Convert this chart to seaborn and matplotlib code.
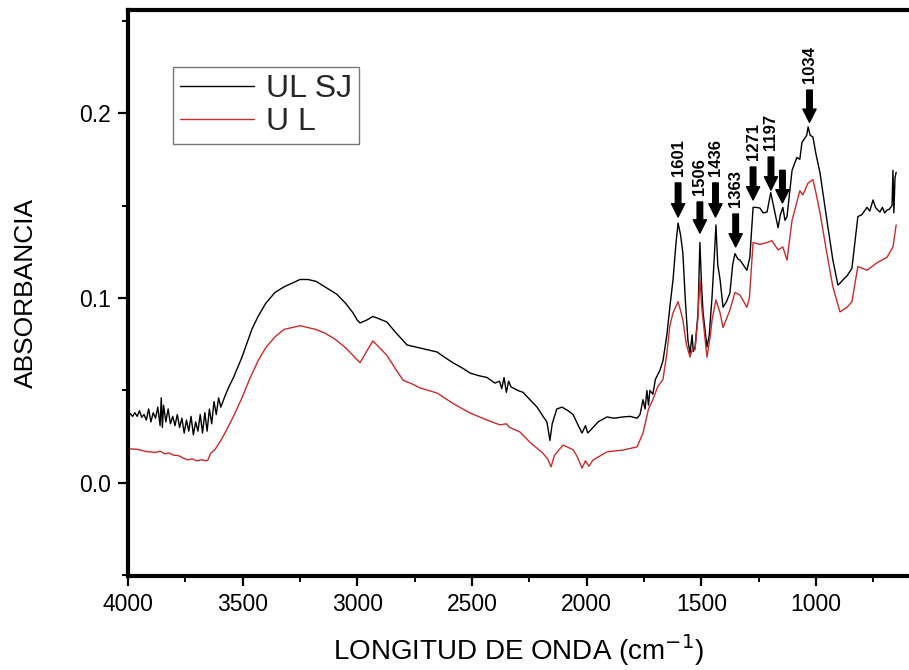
import numpy as np
import pandas as pd
import matplotlib
matplotlib.use("Agg")
import matplotlib.pyplot as plt
from matplotlib.ticker import MultipleLocator
from matplotlib import font_manager
import seaborn as sns

# ---- data ----
wn_black = [4000, 3990, 3980, 3970, 3960, 3950, 3940, 3930, 3920, 3910, 3900, 3890, 3880, 3870,
            3860, 3855, 3850, 3845, 3835, 3825, 3815, 3805, 3795, 3785, 3775, 3765, 3755, 3745,
            3735, 3725, 3715, 3705, 3695, 3685, 3675, 3665, 3655, 3645, 3635, 3625, 3615, 3605,
            3595, 3577, 3560, 3540, 3520, 3503, 3480, 3460, 3433, 3400, 3359, 3320, 3285, 3250,
            3215, 3180, 3141, 3089, 3050, 3019, 3000, 2988, 2960, 2932, 2910, 2871, 2830, 2783,
            2727, 2690, 2652, 2620, 2583, 2540, 2508, 2470, 2434, 2400, 2380, 2370, 2360, 2350,
            2340, 2330, 2300, 2277, 2247, 2216, 2190, 2173, 2160, 2150, 2130, 2107, 2080, 2059,
            2040, 2020, 2005, 1995, 1972, 1950, 1911, 1880, 1841, 1810, 1780, 1767, 1754, 1745,
            1737, 1730, 1724, 1711, 1700, 1680, 1667, 1650, 1637, 1623, 1610, 1601, 1590, 1580,
            1570, 1558, 1549, 1540, 1535, 1527, 1514, 1506, 1498, 1492, 1475, 1465, 1453, 1444,
            1436, 1428, 1418, 1405, 1390, 1375, 1363, 1353, 1340, 1331, 1301, 1288, 1274, 1260,
            1244, 1230, 1213, 1197, 1180, 1165, 1155, 1144, 1135, 1126, 1104, 1083, 1070, 1061,
            1048, 1040, 1034, 1025, 1013, 1000, 982, 952, 926, 904, 895, 873, 864, 843, 830, 817,
            800, 777, 765, 751, 740, 734, 721, 710, 700, 690, 680, 668, 664, 660, 655, 650]
abs_black = [0.037, 0.0375, 0.036, 0.038, 0.036, 0.039, 0.0355, 0.037, 0.034, 0.040, 0.033, 0.038,
             0.035, 0.041, 0.031, 0.046, 0.030, 0.042, 0.033, 0.040, 0.032, 0.036, 0.031, 0.037,
             0.030, 0.035, 0.027, 0.034, 0.028, 0.036, 0.026, 0.033, 0.028, 0.037, 0.027, 0.038,
             0.028, 0.040, 0.032, 0.044, 0.037, 0.046, 0.041, 0.047, 0.052, 0.057, 0.063, 0.068,
             0.076, 0.083, 0.090, 0.097, 0.103, 0.106, 0.108, 0.110, 0.110, 0.109, 0.106, 0.102,
             0.097, 0.092, 0.088, 0.0865, 0.088, 0.090, 0.089, 0.087, 0.081, 0.0746, 0.073, 0.072,
             0.0708, 0.068, 0.065, 0.062, 0.0594, 0.058, 0.057, 0.054, 0.055, 0.051, 0.057, 0.049,
             0.055, 0.052, 0.050, 0.049, 0.045, 0.041, 0.036, 0.033, 0.023, 0.032, 0.040, 0.041,
             0.039, 0.037, 0.032, 0.027, 0.031, 0.027, 0.030, 0.033, 0.0357, 0.035, 0.0357, 0.036,
             0.035, 0.037, 0.045, 0.040, 0.050, 0.042, 0.050, 0.048, 0.056, 0.061, 0.066, 0.080,
             0.095, 0.110, 0.130, 0.1405, 0.134, 0.124, 0.100, 0.077, 0.070, 0.080, 0.071, 0.0735,
             0.092, 0.130, 0.105, 0.092, 0.0735, 0.080, 0.1005, 0.120, 0.1395, 0.118, 0.110, 0.095,
             0.098, 0.1027, 0.118, 0.124, 0.121, 0.1205, 0.115, 0.122, 0.149, 0.149, 0.1486, 0.146,
             0.1465, 0.157, 0.147, 0.138, 0.145, 0.149, 0.142, 0.144, 0.169, 0.176, 0.175, 0.184,
             0.1865, 0.188, 0.1925, 0.188, 0.187, 0.178, 0.1676, 0.142, 0.1205, 0.107, 0.108,
             0.111, 0.112, 0.116, 0.130, 0.144, 0.145, 0.149, 0.147, 0.153, 0.149, 0.148, 0.1465,
             0.149, 0.146, 0.1475, 0.148, 0.150, 0.169, 0.146, 0.165, 0.168]

wn_red = [4000, 3960, 3920, 3880, 3860, 3840, 3820, 3800, 3780, 3760, 3740, 3720, 3700, 3680,
          3660, 3651, 3640, 3621, 3600, 3577, 3540, 3503, 3470, 3433, 3400, 3359, 3320, 3285,
          3250, 3215, 3180, 3141, 3100, 3050, 3019, 2988, 2960, 2932, 2910, 2871, 2830, 2800,
          2760, 2727, 2652, 2583, 2508, 2434, 2378, 2350, 2335, 2291, 2247, 2190, 2170, 2155,
          2140, 2103, 2059, 2040, 2020, 2005, 1990, 1972, 1911, 1841, 1780, 1754, 1730, 1711,
          1690, 1667, 1650, 1637, 1623, 1601, 1590, 1580, 1565, 1549, 1540, 1527, 1514, 1506,
          1498, 1492, 1475, 1460, 1453, 1436, 1418, 1405, 1375, 1353, 1331, 1301, 1290, 1274,
          1244, 1213, 1192, 1165, 1144, 1126, 1104, 1070, 1057, 1035, 1013, 1000, 982, 952,
          926, 895, 864, 843, 817, 777, 734, 690, 664, 650]
abs_red = [0.0185, 0.0182, 0.017, 0.0165, 0.0172, 0.0158, 0.0162, 0.015, 0.0148, 0.0135, 0.0125,
           0.013, 0.012, 0.0125, 0.012, 0.0125, 0.016, 0.018, 0.022, 0.027, 0.036, 0.046, 0.056,
           0.066, 0.073, 0.079, 0.083, 0.084, 0.085, 0.084, 0.083, 0.081, 0.078, 0.073, 0.069,
           0.065, 0.071, 0.0768, 0.074, 0.069, 0.061, 0.0555, 0.0535, 0.0514, 0.0486, 0.043,
           0.0378, 0.034, 0.0314, 0.032, 0.030, 0.0276, 0.022, 0.016, 0.013, 0.0087, 0.015,
           0.0205, 0.018, 0.014, 0.008, 0.012, 0.009, 0.0124, 0.0168, 0.0178, 0.0195, 0.027,
           0.040, 0.045, 0.052, 0.056, 0.070, 0.085, 0.092, 0.098, 0.093, 0.088, 0.075, 0.068,
           0.072, 0.072, 0.090, 0.111, 0.095, 0.088, 0.068, 0.080, 0.088, 0.099, 0.092, 0.084,
           0.0935, 0.103, 0.1016, 0.095, 0.100, 0.130, 0.129, 0.130, 0.131, 0.126, 0.1276,
           0.1205, 0.142, 0.158, 0.1557, 0.162, 0.164, 0.157, 0.146, 0.124, 0.106, 0.0925,
           0.095, 0.098, 0.117, 0.115, 0.119, 0.122, 0.1276, 0.1395]

series_names = ["UL SJ", "U L"]
peak_labels = ["1601", "1506", "1436", "1363", "1271", "1197", "", "1034"]
arrow_x = [1601, 1506, 1438, 1350, 1274, 1196, 1146, 1028]
arrow_tip = [0.1438, 0.1351, 0.1438, 0.1276, 0.153, 0.1584, 0.1514, 0.195]
arrow_top = [0.1622, 0.1519, 0.1622, 0.1454, 0.1708, 0.1762, 0.169, 0.2124]
label_y = [0.1660, 0.1557, 0.1660, 0.1492, 0.1746, 0.1800, 0.0, 0.2162]

# ---- figure ----
sns.set_theme(style="ticks")
plt.rcParams["font.family"] = ["Liberation Sans", "DejaVu Sans"]

installed = {f.name for f in font_manager.fontManager.ttflist}
peak_family = ["Liberation Sans Narrow", "Liberation Sans"] if "Liberation Sans Narrow" in installed \
    else ["Liberation Sans"]

fig = plt.figure(figsize=(9.09, 6.70), dpi=100)
ax = fig.add_axes([128 / 909, 1 - 576 / 670, 781 / 909, 566 / 670])

df_b = pd.DataFrame({"wn": wn_black, "A": abs_black})
df_r = pd.DataFrame({"wn": wn_red, "A": abs_red})
sns.lineplot(data=df_b, x="wn", y="A", color="black", lw=1.0, ax=ax,
             label=series_names[0], sort=False, estimator=None)
sns.lineplot(data=df_r, x="wn", y="A", color="#cc2a2a", lw=1.0, ax=ax,
             label=series_names[1], sort=False, estimator=None)

ax.set_xlim(4000, 594)
ax.set_ylim(-0.0503, 0.2557)
ax.set_xticks([4000, 3500, 3000, 2500, 2000, 1500, 1000])
ax.xaxis.set_minor_locator(MultipleLocator(250))
ax.set_yticks([0.0, 0.1, 0.2])
ax.set_yticklabels(["0.0", "0.1", "0.2"])
ax.yaxis.set_minor_locator(MultipleLocator(0.05))
ax.tick_params(axis="both", which="major", direction="out", length=7, width=1.6,
               labelsize=16.5, color="black", labelcolor="black", pad=5)
ax.tick_params(axis="both", which="minor", direction="out", length=4, width=1.4, color="black")

for s in ["left", "bottom", "top"]:
    ax.spines[s].set_linewidth(3.0)
    ax.spines[s].set_color("black")
ax.spines["right"].set_visible(False)

ax.set_xlabel("LONGITUD DE ONDA (cm$^{-1}$)", fontsize=20, labelpad=12, color="black")
ax.set_ylabel("ABSORBANCIA", fontsize=19, labelpad=30, color="black")

for lab, x, tip, top, ly in zip(peak_labels, arrow_x, arrow_tip, arrow_top, label_y):
    ax.annotate("", xy=(x, tip), xytext=(x, top),
                arrowprops=dict(arrowstyle="simple,head_length=0.95,head_width=0.95,tail_width=0.4",
                                color="black", shrinkA=0, shrinkB=0, mutation_scale=10))
    if lab:
        ax.text(x, ly, lab, rotation=90, ha="center", va="bottom", fontsize=12,
                fontweight="bold", color="black", family=peak_family)

leg = ax.legend(loc="upper left", bbox_to_anchor=((173 - 128) / 781, (576 - 67) / 566),
                borderaxespad=0, fontsize=23, frameon=True, fancybox=False,
                handlelength=2.3, handletextpad=0.4, labelspacing=0.1, borderpad=0.22)
leg.get_frame().set_edgecolor("#555555")
leg.get_frame().set_linewidth(1.0)
for h in leg.get_lines():
    h.set_linewidth(1.0)

fig.savefig("out.png", dpi=100)
